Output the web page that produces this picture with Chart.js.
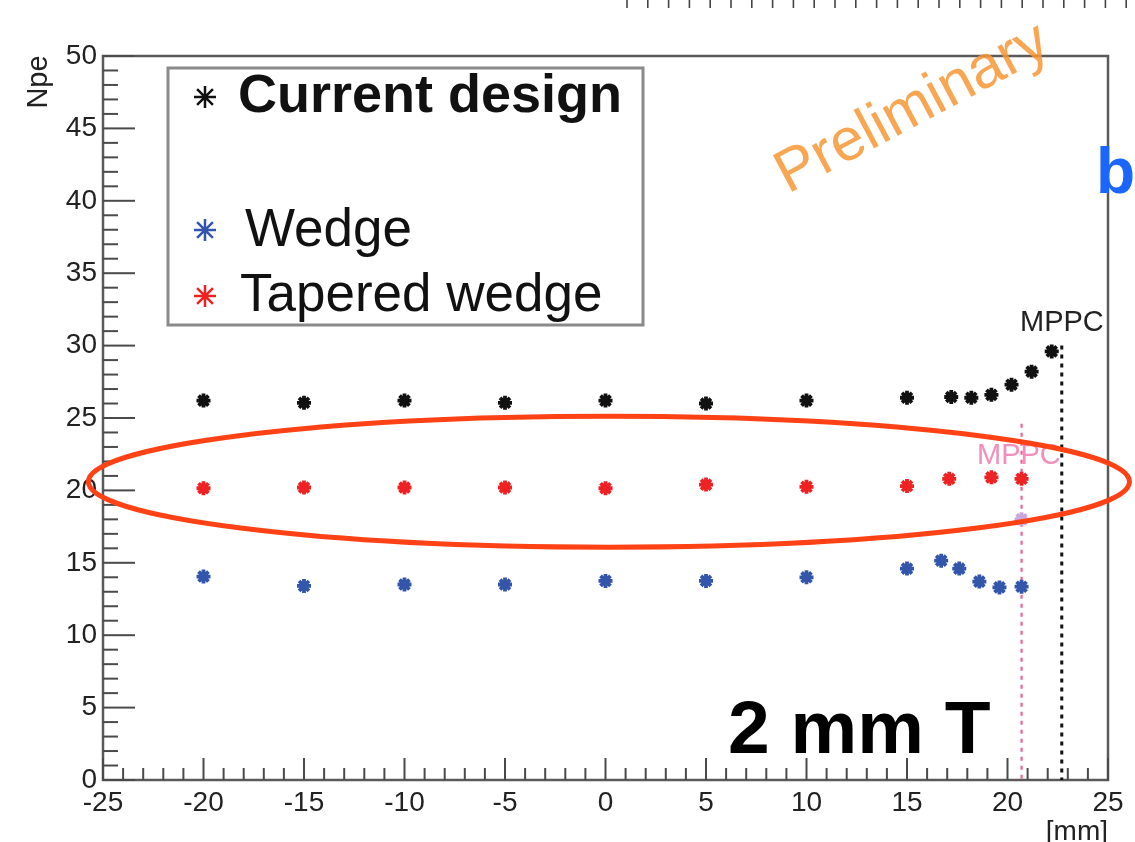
<!DOCTYPE html>
<html>
<head>
<meta charset="utf-8">
<title>Npe vs position</title>
<script src="https://cdn.jsdelivr.net/npm/chart.js@4.4.0/dist/chart.umd.min.js"></script>
<style>
  body { margin: 0; background: #fff; }
  #wrap { width: 1135px; height: 842px; }
</style>
</head>
<body>
<div id="wrap"><canvas id="npeChart" width="1135" height="842"></canvas></div>
<script>
// Data: position [mm] vs Npe
const xCurrent = [-20, -15, -10, -5, 0, 5, 10, 15, 17.2, 18.2, 19.2, 20.2, 21.2, 22.2];
const yCurrent = [26.2, 26.05, 26.2, 26.05, 26.2, 26.0, 26.2, 26.4, 26.45, 26.4, 26.6, 27.3, 28.2, 29.6];

const xTapered = [-20, -15, -10, -5, 0, 5, 10, 15, 17.1, 19.2, 20.7];
const yTapered = [20.15, 20.2, 20.2, 20.2, 20.15, 20.4, 20.25, 20.3, 20.8, 20.9, 20.8];

const xWedge = [-20, -15, -10, -5, 0, 5, 10, 15, 16.7, 17.6, 18.6, 19.6, 20.7];
const yWedge = [14.05, 13.4, 13.5, 13.5, 13.75, 13.75, 14.0, 14.6, 15.15, 14.6, 13.7, 13.3, 13.35];

const xFaded = [20.7];
const yFaded = [18.0];

// MPPC positions (x) and top of the dotted marker lines (y)
const mppcX = [22.7, 20.7];
const mppcTop = [30.0, 24.6];

// highlight ellipse (data units): centre x, centre y, half width, half height
const ringCentre = [0.17, 20.6];
const ringRadii = [25.9, 4.52];

const legendLabels = ['Current design', 'Wedge', 'Tapered wedge'];
const xTicks = [-25, -20, -15, -10, -5, 0, 5, 10, 15, 20, 25];

const FONT = '"Liberation Sans", Arial, Helvetica, sans-serif';

function toPoints(xs, ys) {
    return xs.map((x, i) => ({ x: x, y: ys[i] }));
}

// Frame, inward ticks, MPPC lines, ellipse and loose text
const decorations = {
    id: 'decorations',
    beforeDatasetsDraw(chart) {
        const ctx = chart.ctx;
        const a = chart.chartArea;
        const xs = chart.scales.x;
        const ys = chart.scales.y;
        ctx.save();

        // frame
        ctx.strokeStyle = '#5a5a5a';
        ctx.lineWidth = 2.5;
        ctx.strokeRect(a.left, a.top, a.right - a.left, a.bottom - a.top);

        // minor + major ticks, pointing inward
        ctx.strokeStyle = '#4a4a4a';
        ctx.lineWidth = 2;
        for (let v = -25; v <= 25; v++) {
            const px = xs.getPixelForValue(v);
            const len = (v % 5 === 0) ? 22 : 12;
            ctx.beginPath();
            ctx.moveTo(px, a.bottom);
            ctx.lineTo(px, a.bottom - len);
            ctx.stroke();
        }
        for (let v = 0; v <= 50; v++) {
            const py = ys.getPixelForValue(v);
            const len = (v % 5 === 0) ? 32 : 15;
            ctx.beginPath();
            ctx.moveTo(a.left, py);
            ctx.lineTo(a.left + len, py);
            ctx.stroke();
        }

        // MPPC dotted lines
        const lineColors = ['#111111', '#f0609a'];
        const lineWidths = [3, 2.2];
        mppcX.forEach((mx, i) => {
            ctx.strokeStyle = lineColors[i];
            ctx.lineWidth = lineWidths[i];
            ctx.setLineDash([4, 5]);
            ctx.beginPath();
            ctx.moveTo(xs.getPixelForValue(mx), ys.getPixelForValue(mppcTop[i]));
            ctx.lineTo(xs.getPixelForValue(mx), a.bottom);
            ctx.stroke();
        });
        ctx.setLineDash([]);

        // MPPC labels
        ctx.font = '29px ' + FONT;
        ctx.textAlign = 'left';
        ctx.textBaseline = 'alphabetic';
        ctx.fillStyle = '#222';
        ctx.fillText('MPPC', 1020, 331);
        ctx.fillStyle = 'rgba(240,130,180,0.9)';
        ctx.fillText('MPPC', 977, 464);

        ctx.restore();
    },
    afterDraw(chart) {
        const ctx = chart.ctx;
        const xs = chart.scales.x;
        const ys = chart.scales.y;
        ctx.save();

        // highlight ellipse
        const cx = xs.getPixelForValue(ringCentre[0]);
        const cy = ys.getPixelForValue(ringCentre[1]);
        const rx = xs.getPixelForValue(ringCentre[0] + ringRadii[0]) - cx;
        const ry = cy - ys.getPixelForValue(ringCentre[1] + ringRadii[1]);
        ctx.strokeStyle = '#ff4216';
        ctx.lineWidth = 5;
        ctx.beginPath();
        ctx.ellipse(cx, cy, rx, ry, 0, 0, Math.PI * 2);
        ctx.stroke();

        // legend box
        ctx.strokeStyle = '#8a8a8a';
        ctx.lineWidth = 3;
        ctx.strokeRect(168, 68, 475, 257);
        const legendColors = ['#111111', '#3355aa', '#ee2222'];
        const legendY = [97, 230, 296];
        const legendX = [238, 245, 240];
        const legendBase = [112, 246, 311];
        const legendFonts = ['bold 54px ' + FONT, '53px ' + FONT, '53px ' + FONT];
        legendLabels.forEach((lab, i) => {
            ctx.strokeStyle = legendColors[i];
            ctx.lineWidth = 2.5;
            ctx.beginPath();
            const r = 11;
            ctx.moveTo(205 - r, legendY[i]); ctx.lineTo(205 + r, legendY[i]);
            ctx.moveTo(205, legendY[i] - r); ctx.lineTo(205, legendY[i] + r);
            const d = r * 0.72;
            ctx.moveTo(205 - d, legendY[i] - d); ctx.lineTo(205 + d, legendY[i] + d);
            ctx.moveTo(205 - d, legendY[i] + d); ctx.lineTo(205 + d, legendY[i] - d);
            ctx.stroke();
            ctx.fillStyle = '#111';
            ctx.font = legendFonts[i];
            ctx.textAlign = 'left';
            ctx.textBaseline = 'alphabetic';
            ctx.fillText(lab, legendX[i], legendBase[i]);
        });

        // axis titles
        ctx.fillStyle = '#222';
        ctx.font = '29px ' + FONT;
        ctx.save();
        ctx.translate(47, 82);
        ctx.rotate(-Math.PI / 2);
        ctx.textAlign = 'center';
        ctx.fillText('Npe', 0, 0);
        ctx.restore();
        ctx.textAlign = 'right';
        ctx.font = '28px ' + FONT;
        ctx.fillText('[mm]', 1108, 840);

        // big annotation
        ctx.fillStyle = '#000';
        ctx.font = 'bold 75px ' + FONT;
        ctx.textAlign = 'left';
        ctx.fillText('2 mm T', 728, 753);

        // watermark
        ctx.save();
        ctx.translate(788, 194);
        ctx.rotate(-28 * Math.PI / 180);
        ctx.fillStyle = 'rgba(247,150,50,0.85)';
        ctx.font = '60px ' + FONT;
        ctx.textAlign = 'left';
        ctx.fillText('Preliminary', 0, 0);
        ctx.restore();

        // clipped letter from the neighbouring panel
        ctx.fillStyle = '#1a66ff';
        ctx.font = 'bold 64px ' + FONT;
        ctx.fillText('b', 1096, 193);

        // ruler ticks of the panel above
        ctx.strokeStyle = '#444';
        ctx.lineWidth = 1.6;
        for (let px = 627; px < 1135; px += 20.8) {
            ctx.beginPath();
            ctx.moveTo(px, 0);
            ctx.lineTo(px, 8);
            ctx.stroke();
        }

        ctx.restore();
    }
};

function makeSet(label, xs, ys, color) {
    return {
        label: label,
        data: toPoints(xs, ys),
        pointStyle: 'star',
        pointRadius: 7,
        pointBorderWidth: 3.8,
        borderColor: color,
        backgroundColor: color,
        showLine: false
    };
}

const ctx = document.getElementById('npeChart').getContext('2d');
new Chart(ctx, {
    type: 'scatter',
    data: {
        datasets: [
            makeSet('Current design', xCurrent, yCurrent, '#111111'),
            makeSet('Wedge', xWedge, yWedge, '#3355aa'),
            makeSet('Tapered wedge', xTapered, yTapered, '#ee2222'),
            makeSet('faded', xFaded, yFaded, '#c9a6dc')
        ]
    },
    options: {
        responsive: false,
        animation: false,
        layout: { padding: { left: 0, right: 27, top: 56, bottom: 0 } },
        plugins: {
            legend: { display: false },
            tooltip: { enabled: false }
        },
        scales: {
            x: {
                type: 'linear',
                min: -25,
                max: 25,
                afterFit: s => { s.height = 62; },
                afterBuildTicks: s => { s.ticks = xTicks.map(v => ({ value: v })); },
                grid: { display: false, drawTicks: false },
                border: { display: false },
                ticks: {
                    padding: 6,
                    maxRotation: 0,
                    color: '#222',
                    font: { family: FONT, size: 28 }
                }
            },
            y: {
                type: 'linear',
                min: 0,
                max: 50,
                afterFit: s => { s.width = 103; },
                grid: { display: false, drawTicks: false },
                border: { display: false },
                ticks: {
                    stepSize: 5,
                    padding: 6,
                    color: '#222',
                    font: { family: FONT, size: 28 }
                }
            }
        }
    },
    plugins: [decorations]
});
</script>
</body>
</html>
